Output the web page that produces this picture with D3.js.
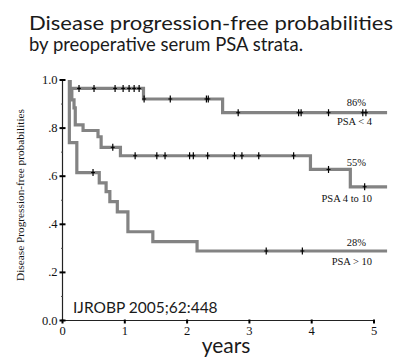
<!DOCTYPE html>
<html><head><meta charset="utf-8">
<script src="https://cdn.jsdelivr.net/npm/d3@7/dist/d3.min.js"></script>
<style>html,body{margin:0;padding:0;background:#fff;}svg{display:block;}</style>
</head><body>
<svg id="c" width="409" height="358"></svg>
<script>
// ---- data ----
const titleLines = ["Disease progression-free probabilities", "by preoperative serum PSA strata."];
const yTicks = [0, 0.2, 0.4, 0.6, 0.8, 1.0];
const yTickLabels = ["0.0", ".2", ".4", ".6", ".8", "1.0"];
const yMinorTicks = [0.1, 0.3, 0.5, 0.7, 0.9];
const xTicks = [0, 1, 2, 3, 4, 5];
const xTickLabels = ["0", "1", "2", "3", "4", "5"];

const lowTimes = [0.12, 0.12, 1.30, 2.57, 5.21];
const lowSurv  = [1.0, 0.965, 0.921, 0.864, 0.864];
const lowCens  = [0.265, 0.506, 0.844, 0.973, 1.069, 1.15, 1.23, 1.31, 1.73, 2.31, 2.34, 2.82, 3.79, 3.83, 4.27, 4.82, 4.87];

const midTimes = [0.12, 0.12, 0.15, 0.185, 0.205, 0.33, 0.57, 0.62, 0.93, 3.98, 4.62, 5.21];
const midSurv  = [1.0, 0.96, 0.917, 0.884, 0.813, 0.79, 0.764, 0.72, 0.685, 0.628, 0.556, 0.556];
const midCens  = [0.807, 1.166, 1.514, 1.646, 2.04, 2.10, 2.33, 2.76, 2.88, 3.15, 3.71, 4.27, 4.85];

const highTimes = [0.11, 0.11, 0.23, 0.59, 0.70, 0.76, 0.88, 1.05, 1.45, 2.16, 5.21];
const highSurv  = [1.0, 0.74, 0.615, 0.572, 0.536, 0.494, 0.452, 0.369, 0.328, 0.289, 0.289];
const highCens  = [0.49, 3.27, 3.85];

const pctLabels = ["86%", "55%", "28%"];
const groupLabels = ["PSA < 4", "PSA 4 to 10", "PSA > 10"];
const yTitle = "Disease Progression-free probabilities";
const xTitle = "years";
const citation = "IJROBP 2005;62:448";

// ---- drawing ----
const svg = d3.select("#c");
const x = d3.scaleLinear().domain([0, 5]).range([62.5, 374]);
const y = d3.scaleLinear().domain([0, 1]).range([320.5, 80]);

// title
const sans = "Lato, 'Open Sans', sans-serif";
const serif = "'Liberation Serif', 'DejaVu Serif', serif";
const t1 = svg.append("text").attr("x", 29).attr("y", 30).attr("font-family", sans).attr("font-size", 20).attr("fill", "#1a1a1a").text(titleLines[0]);
const t2 = svg.append("text").attr("x", 29).attr("y", 51).attr("font-family", sans).attr("font-size", 20).attr("fill", "#1a1a1a").text(titleLines[1]);
t1.attr("textLength", 364).attr("lengthAdjust", "spacingAndGlyphs");
t2.attr("textLength", 274).attr("lengthAdjust", "spacingAndGlyphs");

// axes
const axisCol = "#222";
svg.append("line").attr("x1", x(0)).attr("x2", x(0)).attr("y1", y(1)).attr("y2", y(0)).attr("stroke", axisCol).attr("stroke-width", 1.2);
svg.append("line").attr("x1", x(0)).attr("x2", x(5)).attr("y1", y(0)).attr("y2", y(0)).attr("stroke", axisCol).attr("stroke-width", 1.2);

svg.selectAll(".yt").data(yTicks).enter().append("line")
  .attr("x1", x(0) - 3).attr("x2", x(0) + 3).attr("y1", d => y(d)).attr("y2", d => y(d))
  .attr("stroke", "#000").attr("stroke-width", 2);
svg.selectAll(".ym").data(yMinorTicks).enter().append("line")
  .attr("x1", x(0) - 1.5).attr("x2", x(0)).attr("y1", d => y(d)).attr("y2", d => y(d))
  .attr("stroke", "#555").attr("stroke-width", 1);
svg.selectAll(".yl").data(yTicks).enter().append("text")
  .attr("x", x(0) - 5).attr("y", d => y(d) + 4).attr("text-anchor", "end")
  .attr("font-family", serif).attr("font-size", 12.5).attr("fill", "#111")
  .text((d, i) => yTickLabels[i]);

svg.selectAll(".xt").data(xTicks).enter().append("line")
  .attr("x1", d => x(d)).attr("x2", d => x(d)).attr("y1", y(0) - 1).attr("y2", y(0) + 3)
  .attr("stroke", "#000").attr("stroke-width", 2);
svg.selectAll(".xl").data(xTicks).enter().append("text")
  .attr("x", d => x(d)).attr("y", y(0) + 14.5).attr("text-anchor", "middle")
  .attr("font-family", serif).attr("font-size", 12.5).attr("fill", "#111")
  .text((d, i) => xTickLabels[i]);

// y title
svg.append("text").attr("transform", `translate(24, 195) rotate(-90)`)
  .attr("text-anchor", "middle").attr("font-family", serif).attr("font-size", 11.3).attr("fill", "#111")
  .text(yTitle);
// x title
svg.append("text").attr("x", 226).attr("y", 353).attr("text-anchor", "middle")
  .attr("font-family", sans).attr("font-size", 21).attr("fill", "#1a1a1a").text(xTitle);
// citation
svg.append("text").attr("x", 73).attr("y", 313).attr("font-family", sans).attr("font-size", 15.5).attr("fill", "#1a1a1a").text(citation);

// curves
const line = d3.line().x(d => x(d[0])).y(d => y(d[1])).curve(d3.curveStepAfter);
const groups = [
  {times: lowTimes, surv: lowSurv, cens: lowCens},
  {times: midTimes, surv: midSurv, cens: midCens},
  {times: highTimes, surv: highSurv, cens: highCens}
];
function survAt(g, t) {
  let s = g.surv[0];
  for (let i = 0; i < g.times.length; i++) if (g.times[i] <= t) s = g.surv[i];
  return s;
}
groups.forEach(g => {
  svg.append("path").attr("d", line(g.times.map((t, i) => [t, g.surv[i]])))
    .attr("fill", "none").attr("stroke", "#838383").attr("stroke-width", 3.2);
});
groups.forEach(g => {
  svg.selectAll(null).data(g.cens).enter().append("line")
    .attr("x1", d => x(d)).attr("x2", d => x(d))
    .attr("y1", d => y(survAt(g, d)) - 3.5).attr("y2", d => y(survAt(g, d)) + 3.5)
    .attr("stroke", "#000").attr("stroke-width", 1.2);
  svg.selectAll(null).data(g.cens).enter().append("line")
    .attr("x1", d => x(d) - 2).attr("x2", d => x(d) + 2)
    .attr("y1", d => y(survAt(g, d))).attr("y2", d => y(survAt(g, d)))
    .attr("stroke", "#000").attr("stroke-width", 1);
});

// annotations
const pctOffsets = [-7, -21, -5];
const grpOffsets = [12, 15, 14];
groups.forEach((g, i) => {
  const last = g.surv[g.surv.length - 1];
  svg.append("text").attr("x", 366).attr("y", y(last) + pctOffsets[i]).attr("text-anchor", "end")
    .attr("font-family", serif).attr("font-size", 10.5).attr("fill", "#111").text(pctLabels[i]);
  svg.append("text").attr("x", 372).attr("y", y(last) + grpOffsets[i]).attr("text-anchor", "end")
    .attr("font-family", serif).attr("font-size", 10.5).attr("fill", "#111").text(groupLabels[i]);
});
</script>
</body></html>
